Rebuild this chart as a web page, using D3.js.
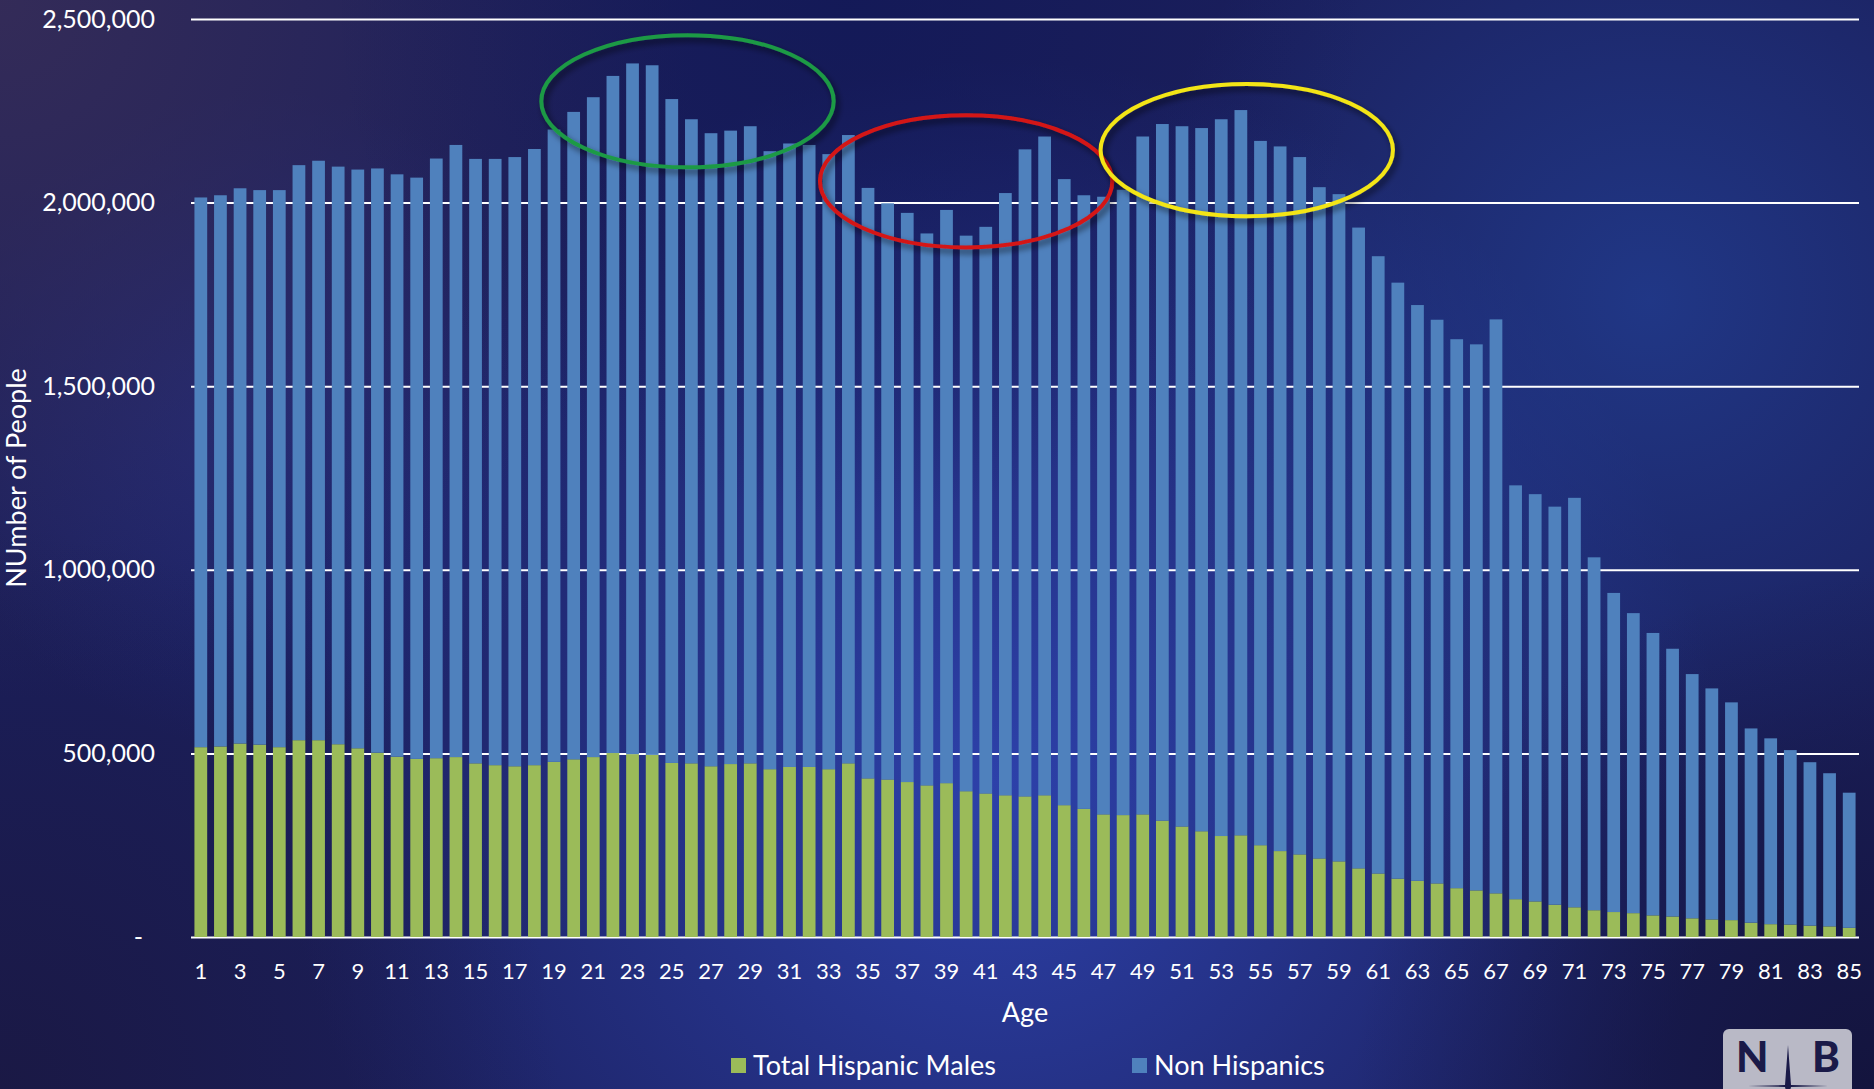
<!DOCTYPE html>
<meta charset="utf-8">
<style>
    body { margin: 0; background: #1b1d55; }
    svg { display: block; font-family: Lato, "Open Sans", sans-serif; }
    .grid line { stroke: #ffffff; stroke-width: 2; }
    .axis text { fill: #ffffff; }
    .title { fill: #ffffff; }
</style>
<svg width="1874" height="1089"></svg>
<script src="https://d3js.org/d3.v7.min.js"></script>
<script>
    // age categories on the x axis
    var ages = [1, 2, 3, 4, 5, 6, 7, 8, 9, 10, 11, 12, 13, 14, 15, 16, 17, 18, 19, 20,
        21, 22, 23, 24, 25, 26, 27, 28, 29, 30, 31, 32, 33, 34, 35, 36, 37, 38, 39, 40,
        41, 42, 43, 44, 45, 46, 47, 48, 49, 50, 51, 52, 53, 54, 55, 56, 57, 58, 59, 60,
        61, 62, 63, 64, 65, 66, 67, 68, 69, 70, 71, 72, 73, 74, 75, 76, 77, 78, 79, 80,
        81, 82, 83, 84, 85];
    var ageTicks = ages.filter(function(a) { return a % 2 === 1; });
    var yTicks = [0, 500000, 1000000, 1500000, 2000000, 2500000];

    // Total Hispanic Males (bottom segment)
    var hispanic = [517000, 519000, 527000, 524000, 517000, 536000, 536000, 525000, 514000, 502000,
        491000, 485000, 487000, 490000, 473000, 468000, 465000, 468000, 477000, 484000,
        490000, 501000, 498000, 496000, 474000, 473000, 465000, 471000, 473000, 457000,
        463000, 463000, 457000, 473000, 432000, 429000, 422000, 413000, 419000, 397000,
        391000, 386000, 383000, 386000, 359000, 349000, 334000, 332000, 334000, 317000,
        301000, 288000, 275000, 277000, 250000, 234000, 225000, 214000, 206000, 187000,
        173000, 159000, 153000, 146000, 133000, 127000, 119000, 103000, 97000, 88000,
        81000, 73000, 68000, 65000, 59000, 56000, 51000, 48000, 46000, 39000,
        35000, 34000, 31000, 29000, 25000];

    // Non Hispanics (stacked on top)
    var nonHispanic = [1497000, 1501000, 1512000, 1510000, 1517000, 1566000, 1578000, 1573000, 1576000, 1591000,
        1586000, 1583000, 1633000, 1667000, 1646000, 1651000, 1659000, 1678000, 1722000, 1763000,
        1797000, 1844000, 1881000, 1878000, 1808000, 1754000, 1724000, 1725000, 1735000, 1683000,
        1698000, 1694000, 1675000, 1711000, 1608000, 1569000, 1550000, 1503000, 1561000, 1513000,
        1543000, 1640000, 1762000, 1794000, 1705000, 1671000, 1682000, 1703000, 1846000, 1897000,
        1907000, 1915000, 1952000, 1975000, 1918000, 1919000, 1899000, 1828000, 1817000, 1745000,
        1681000, 1623000, 1568000, 1535000, 1495000, 1487000, 1563000, 1127000, 1109000, 1084000,
        1115000, 961000, 869000, 817000, 769000, 729000, 665000, 629000, 593000, 529000,
        506000, 475000, 445000, 417000, 368000];

    var seriesNames = ["Total Hispanic Males", "Non Hispanics"];
    var seriesColors = ["#9bbb59", "#4f81bd"];

    // highlight rings: centre in (age, people), size in ages / people
    var highlights = [
        {color: "#1f9a45", age: 25.8, value: 2276000},
        {color: "#d41919", age: 40.0, value: 2058000},
        {color: "#f3e516", age: 54.3, value: 2143000}
    ];
    var ringAgeRadius = 7.45, ringValueRadius = 180000;

    var svg = d3.select("svg"),
        width = +svg.attr("width"),
        height = +svg.attr("height");
    var margin = {top: 19, right: 15, bottom: 152, left: 191};
    var fontStack = "Lato, 'Open Sans', sans-serif";

    var defs = svg.append("defs");

    // ---- background ----
    function glow(id, cx, cy, r, color, op) {
        var g = defs.append("radialGradient").attr("id", id)
            .attr("gradientUnits", "userSpaceOnUse")
            .attr("cx", cx).attr("cy", cy).attr("r", r);
        g.append("stop").attr("offset", 0).attr("stop-color", color).attr("stop-opacity", op);
        g.append("stop").attr("offset", 1).attr("stop-color", color).attr("stop-opacity", 0);
        svg.append("rect").attr("width", width).attr("height", height).attr("fill", "url(#" + id + ")");
    }
    svg.append("rect").attr("width", width).attr("height", height).attr("fill", "#1b1f5c");
    glow("g1", 1000, 780, 720, "#3047b8", 0.85);
    glow("g2", 1650, 300, 520, "#2447a2", 0.6);
    glow("g3", 260, 420, 330, "#2d42b5", 0.35);
    glow("g4", 0, 0, 700, "#352c58", 0.95);
    glow("g5", 1874, 1089, 520, "#121238", 0.85);
    glow("g6", 0, 1089, 560, "#1a173f", 0.8);
    glow("g7", 850, 0, 520, "#0f1655", 0.6);

    var shadow = defs.append("filter").attr("id", "shadow")
        .attr("x", "-20%").attr("y", "-20%").attr("width", "140%").attr("height", "140%");
    shadow.append("feDropShadow").attr("dx", 3).attr("dy", 4).attr("stdDeviation", 3)
        .attr("flood-color", "#000").attr("flood-opacity", 0.6);

    // ---- scales ----
    var x = d3.scaleBand()
        .domain(ages)
        .range([margin.left, width - margin.right])
        .paddingInner(0.35)
        .paddingOuter(0.175);

    var y = d3.scaleLinear()
        .domain([0, 2500000])
        .range([height - margin.bottom, margin.top]);

    function xAt(a) {
        return x(ages[0]) + x.bandwidth() / 2 + (a - ages[0]) * x.step();
    }

    // ---- gridlines ----
    svg.append("g")
        .attr("class", "grid")
        .attr("transform", "translate(" + margin.left + ",0)")
        .call(d3.axisLeft(y).tickValues(yTicks)
            .tickSize(-(width - margin.left - margin.right)).tickFormat(""))
        .call(function(g) { g.select(".domain").remove(); });

    // ---- stacked bars ----
    var rows = ages.map(function(a, i) {
        return {age: a, hispanic: hispanic[i], nonHispanic: nonHispanic[i]};
    });
    var stacked = d3.stack().keys(["hispanic", "nonHispanic"])(rows);

    svg.append("g")
        .selectAll("g")
        .data(stacked)
        .enter().append("g")
        .attr("fill", function(d, i) { return seriesColors[i]; })
        .selectAll("rect")
        .data(function(d) { return d; })
        .enter().append("rect")
        .attr("x", function(d) { return x(d.data.age); })
        .attr("width", x.bandwidth())
        .attr("y", function(d) { return y(d[1]); })
        .attr("height", function(d) { return y(d[0]) - y(d[1]); });

    // ---- axes ----
    var yAxis = svg.append("g")
        .attr("class", "axis")
        .attr("transform", "translate(155,0)")
        .call(d3.axisLeft(y).tickValues(yTicks).tickSize(0).tickPadding(0)
            .tickFormat(function(d) { return d === 0 ? "-" : d3.format(",")(d); }))
        .attr("font-family", fontStack)
        .attr("font-size", 25);
    yAxis.select(".domain").remove();
    yAxis.selectAll(".tick").filter(function(d) { return d === 0; })
        .select("text").attr("x", -12);

    var xAxis = svg.append("g")
        .attr("class", "axis")
        .attr("transform", "translate(0," + y(0) + ")")
        .call(d3.axisBottom(x).tickValues(ageTicks).tickSize(0).tickPadding(26))
        .attr("font-family", fontStack)
        .attr("font-size", 22);
    xAxis.select(".domain").remove();

    // ---- titles ----
    svg.append("text")
        .attr("class", "title")
        .attr("x", (margin.left + width - margin.right) / 2)
        .attr("y", 1013)
        .attr("dy", "0.35em")
        .attr("text-anchor", "middle")
        .attr("font-size", 27)
        .text("Age");

    svg.append("text")
        .attr("class", "title")
        .attr("transform", "translate(17," + (margin.top + height - margin.bottom) / 2 + ") rotate(-90)")
        .attr("dy", "0.35em")
        .attr("text-anchor", "middle")
        .attr("font-size", 27)
        .text("NUmber of People");

    // ---- legend ----
    var legendX = [731, 1132];
    var legend = svg.append("g")
        .selectAll("g")
        .data(seriesNames)
        .enter().append("g")
        .attr("transform", function(d, i) { return "translate(" + legendX[i] + ",1058)"; });
    legend.append("rect")
        .attr("width", 15).attr("height", 15)
        .attr("fill", function(d, i) { return seriesColors[i]; });
    legend.append("text")
        .attr("class", "title")
        .attr("x", 22).attr("y", 7.5).attr("dy", "0.35em")
        .attr("font-size", 27)
        .text(function(d) { return d; });

    // ---- highlight rings ----
    svg.append("g")
        .selectAll("ellipse")
        .data(highlights)
        .enter().append("ellipse")
        .attr("cx", function(d) { return xAt(d.age); })
        .attr("cy", function(d) { return y(d.value); })
        .attr("rx", ringAgeRadius * x.step())
        .attr("ry", y(0) - y(ringValueRadius))
        .attr("fill", "none")
        .attr("stroke", function(d) { return d.color; })
        .attr("stroke-width", 4)
        .attr("filter", "url(#shadow)");

    // ---- NIB logo ----
    var logo = svg.append("g").attr("transform", "translate(1723,1029)");
    logo.append("rect").attr("width", 129).attr("height", 70).attr("rx", 6).attr("fill", "#b9b9c6");
    logo.append("text").attr("x", 13).attr("y", 43).attr("font-size", 42).attr("font-weight", 900)
        .attr("font-family", "Lato, sans-serif").attr("fill", "#1a1a48").text("N");
    logo.append("text").attr("x", 89).attr("y", 43).attr("font-size", 42).attr("font-weight", 900)
        .attr("font-family", "Lato, sans-serif").attr("fill", "#1a1a48").text("B");
    logo.append("path").attr("d", "M65,16 L68,56 L105,57 L68,58 L65,70 L62,58 L25,57 L62,56 Z")
        .attr("fill", "#1a1a48");
</script>
